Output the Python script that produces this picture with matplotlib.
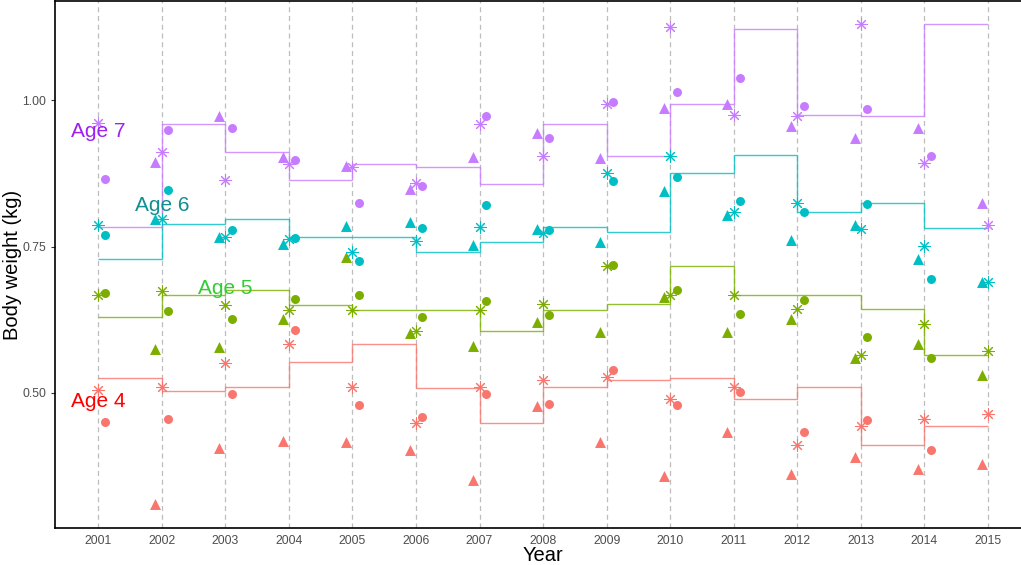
import numpy as np
import matplotlib
matplotlib.use("Agg")
import matplotlib.pyplot as plt

plt.rcParams['font.family'] = ['Liberation Sans', 'DejaVu Sans']

years = list(range(2001, 2016))
nan = np.nan

# Mean body weight by interval (one level per year-to-year interval, 2001-2015)
level_age4 = [0.525, 0.503, 0.510, 0.553, 0.584, 0.509, 0.449, 0.510, 0.522, 0.526, 0.490, 0.510, 0.412, 0.443]
level_age5 = [0.630, 0.668, 0.675, 0.650, 0.641, 0.641, 0.605, 0.641, 0.652, 0.716, 0.667, 0.667, 0.643, 0.564]
level_age6 = [0.729, 0.788, 0.797, 0.766, 0.766, 0.740, 0.758, 0.784, 0.774, 0.875, 0.906, 0.809, 0.824, 0.781]
level_age7 = [0.783, 0.959, 0.911, 0.864, 0.890, 0.885, 0.857, 0.959, 0.904, 0.993, 1.122, 0.974, 0.972, 1.129]

# Observations per year: triangle, asterisk and circle series
tri_age4 = [nan, 0.310, 0.406, 0.418, 0.417, 0.402, 0.351, 0.478, 0.416, 0.358, 0.434, 0.361, 0.390, 0.371, 0.379]
ast_age4 = [0.505, 0.511, 0.552, 0.584, 0.510, 0.448, 0.511, 0.523, 0.527, 0.490, 0.510, 0.411, 0.444, 0.456, 0.464]
cir_age4 = [0.450, 0.455, 0.499, 0.608, 0.480, 0.459, 0.498, 0.481, 0.539, 0.479, 0.501, 0.433, 0.454, 0.402, nan]

tri_age5 = [nan, 0.575, 0.579, 0.626, 0.732, 0.603, 0.580, 0.621, 0.604, 0.664, 0.604, 0.627, 0.560, 0.584, 0.530]
ast_age5 = [0.668, 0.674, 0.650, 0.642, 0.641, 0.606, 0.641, 0.652, 0.717, 0.667, 0.667, 0.643, 0.564, 0.618, 0.572]
cir_age5 = [0.670, 0.640, 0.626, 0.660, 0.668, 0.629, 0.657, 0.633, 0.718, 0.676, 0.634, 0.658, 0.595, 0.559, nan]

tri_age6 = [nan, 0.797, 0.767, 0.754, 0.785, 0.791, 0.752, 0.780, 0.757, 0.845, 0.804, 0.761, 0.786, 0.728, 0.690]
ast_age6 = [0.787, 0.797, 0.766, 0.763, 0.740, 0.759, 0.784, 0.773, 0.875, 0.905, 0.809, 0.825, 0.780, 0.751, 0.690]
cir_age6 = [0.769, 0.846, 0.778, 0.764, 0.725, 0.781, 0.820, 0.778, 0.861, 0.868, 0.828, 0.809, 0.823, 0.694, nan]

tri_age7 = [nan, 0.895, 0.973, 0.903, 0.887, 0.848, 0.902, 0.943, 0.901, 0.986, 0.993, 0.956, 0.936, 0.953, 0.825]
ast_age7 = [0.960, 0.911, 0.864, 0.891, 0.885, 0.858, 0.959, 0.904, 0.993, 1.124, 0.974, 0.973, 1.130, 0.893, 0.786]
cir_age7 = [0.865, 0.949, 0.953, 0.898, 0.825, 0.853, 0.973, 0.935, 0.997, 1.013, 1.038, 0.990, 0.984, 0.904, nan]

age_names = ["Age 4", "Age 5", "Age 6", "Age 7"]
age_colors = ["#F8766D", "#7CAE00", "#00BFC4", "#C77CFF"]
label_colors = ["#FF0000", "#33CC33", "#109090", "#A020F0"]
label_pos = [(2001, 0.486), (2003, 0.679), (2002, 0.820), (2001, 0.947)]

levels = [level_age4, level_age5, level_age6, level_age7]
tris = [tri_age4, tri_age5, tri_age6, tri_age7]
asts = [ast_age4, ast_age5, ast_age6, ast_age7]
cirs = [cir_age4, cir_age5, cir_age6, cir_age7]

fig = plt.figure(figsize=(10.21, 5.65), dpi=100)
ax = fig.add_axes([55 / 1021, 1 - 528 / 565, 1 - 55 / 1021 + 0.01, 527 / 565])

yrs = np.array(years, dtype=float)
for x in years:
    ax.axvline(x, color="#BDBDBD", lw=0.9, ls=(0, (4, 3)), zorder=0)

for lev, tri, ast, cir, col in zip(levels, tris, asts, cirs, age_colors):
    ax.stairs(lev, yrs, baseline=None, color=col, lw=1.0, alpha=0.8, zorder=2)
    ax.scatter(yrs - 0.1, tri, marker="^", s=62, color=col, linewidths=0, zorder=3)
    ax.scatter(yrs, ast, marker=(8, 2, 0), s=70, color=col, linewidths=0.75, zorder=3)
    ax.scatter(yrs + 0.1, cir, marker="o", s=42, color=col, linewidths=0, zorder=3)

for name, (lx, ly), lc in zip(age_names, label_pos, label_colors):
    ax.text(lx, ly, name, color=lc, fontsize=15, ha="center", va="center", zorder=5)

ax.set_xlim(2000.32, 2015.68)
ax.set_ylim(0.2696, 1.169)
ax.set_xticks(years)
ax.set_xticklabels([str(y) for y in years])
ax.set_yticks([0.50, 0.75, 1.00])
ax.set_yticklabels(["0.50", "0.75", "1.00"])
ax.tick_params(axis="both", labelsize=8.8, labelcolor="#4D4D4D", color="#333333",
               length=3, width=0.8)
ax.tick_params(axis="x", length=0, pad=5)
ax.set_xlabel("Year", fontsize=14.5, labelpad=-1)
ax.set_ylabel("Body weight (kg)", fontsize=14.5, labelpad=0)

for side in ["left", "bottom", "top"]:
    ax.spines[side].set_color("black")
    ax.spines[side].set_linewidth(1.2)
ax.spines["right"].set_visible(False)

fig.savefig("out.png", dpi=100)
